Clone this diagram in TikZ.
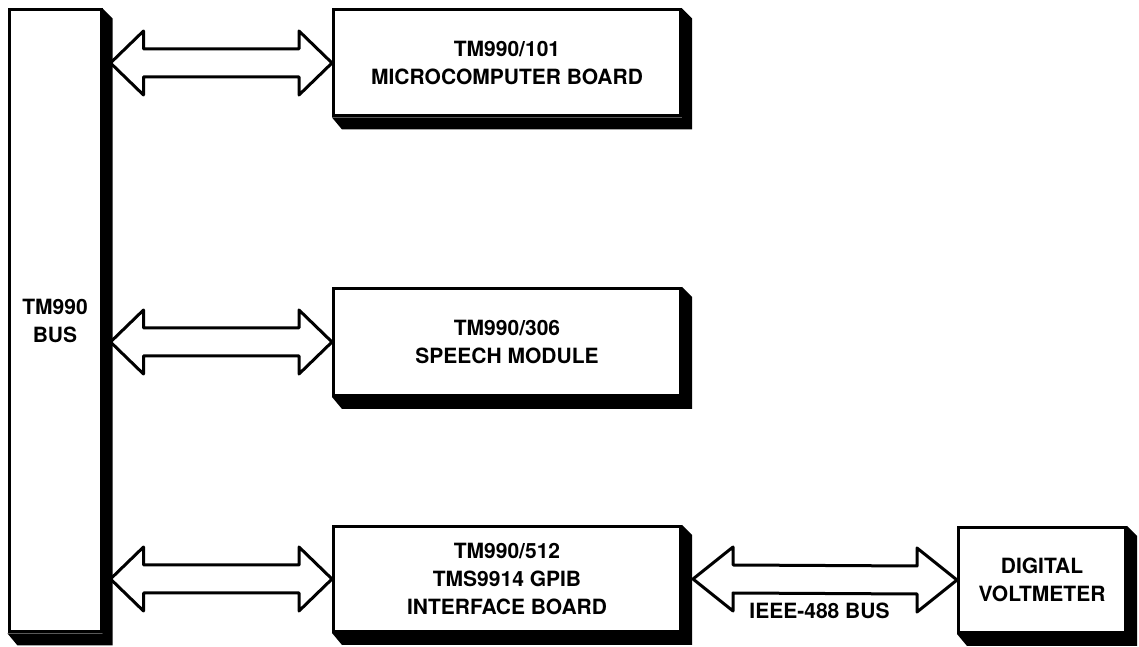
\documentclass[tikz,border=0pt]{standalone}
\usepackage{fontspec}
\setmainfont{TeX Gyre Heros}
\usetikzlibrary{calc}
\tikzset{
    placa/.style={draw=black, fill=white, line width=3pt, align=center, inner sep=0pt,
        font=\bfseries\fontsize{21}{28}\selectfont},
    seta/.style={draw=black, fill=white, line width=3pt, line join=round},
    rotulo/.style={font=\bfseries\fontsize{21}{28}\selectfont}
}
\newcommand{\setadupla}[3][33]{%
    \draw[seta] (#2) -- ++(#1,32) -- ++(0,-18) -- ($(#3)+(-#1,14)$) -- ++(0,18)
        -- (#3) -- ++(-#1,-32) -- ++(0,18) -- ($(#2)+(#1,-14)$) -- ++(0,-18) -- cycle;}

\begin{document}
\begin{tikzpicture}[x=1pt, y=1pt]
    \useasboundingbox (0,0) rectangle (1139,647);
    \node[placa, minimum width=92pt, minimum height=622pt] (bus) at (55,326) {TM990\\BUS};
    \node[placa, minimum width=347pt, minimum height=106pt] (micro) at (507,584) {TM990/101\\MICROCOMPUTER BOARD};
    \node[placa, minimum width=347pt, minimum height=107pt] (fala) at (507,305) {TM990/306\\SPEECH MODULE};
    \node[placa, minimum width=347pt, minimum height=105pt] (gpib) at (507,68) {TM990/512\\TMS9914 GPIB\\INTERFACE BOARD};
    \node[placa, minimum width=167pt, minimum height=105pt] (dvm) at (1042,67) {DIGITAL\\VOLTMETER};
    \foreach \b in {bus, micro, fala, gpib, dvm}
        \fill (\b.south west) -- ++(10,-12) -| ($(\b.north east)+(10,-10)$) -- (\b.north east) -- (\b.south east) -- cycle;
    \foreach \b in {micro, fala, gpib}
        {\setadupla{$(bus.east |- \b.west)+(8,0)$}{\b.west}}
    \setadupla[40]{$(gpib.east)+(11,0)$}{dvm.west}
    \node[rotulo] (ieee) at ($(gpib.east)!0.5!(dvm.west)+(0,-31)$) {IEEE-488 BUS};
\end{tikzpicture}
\end{document}
